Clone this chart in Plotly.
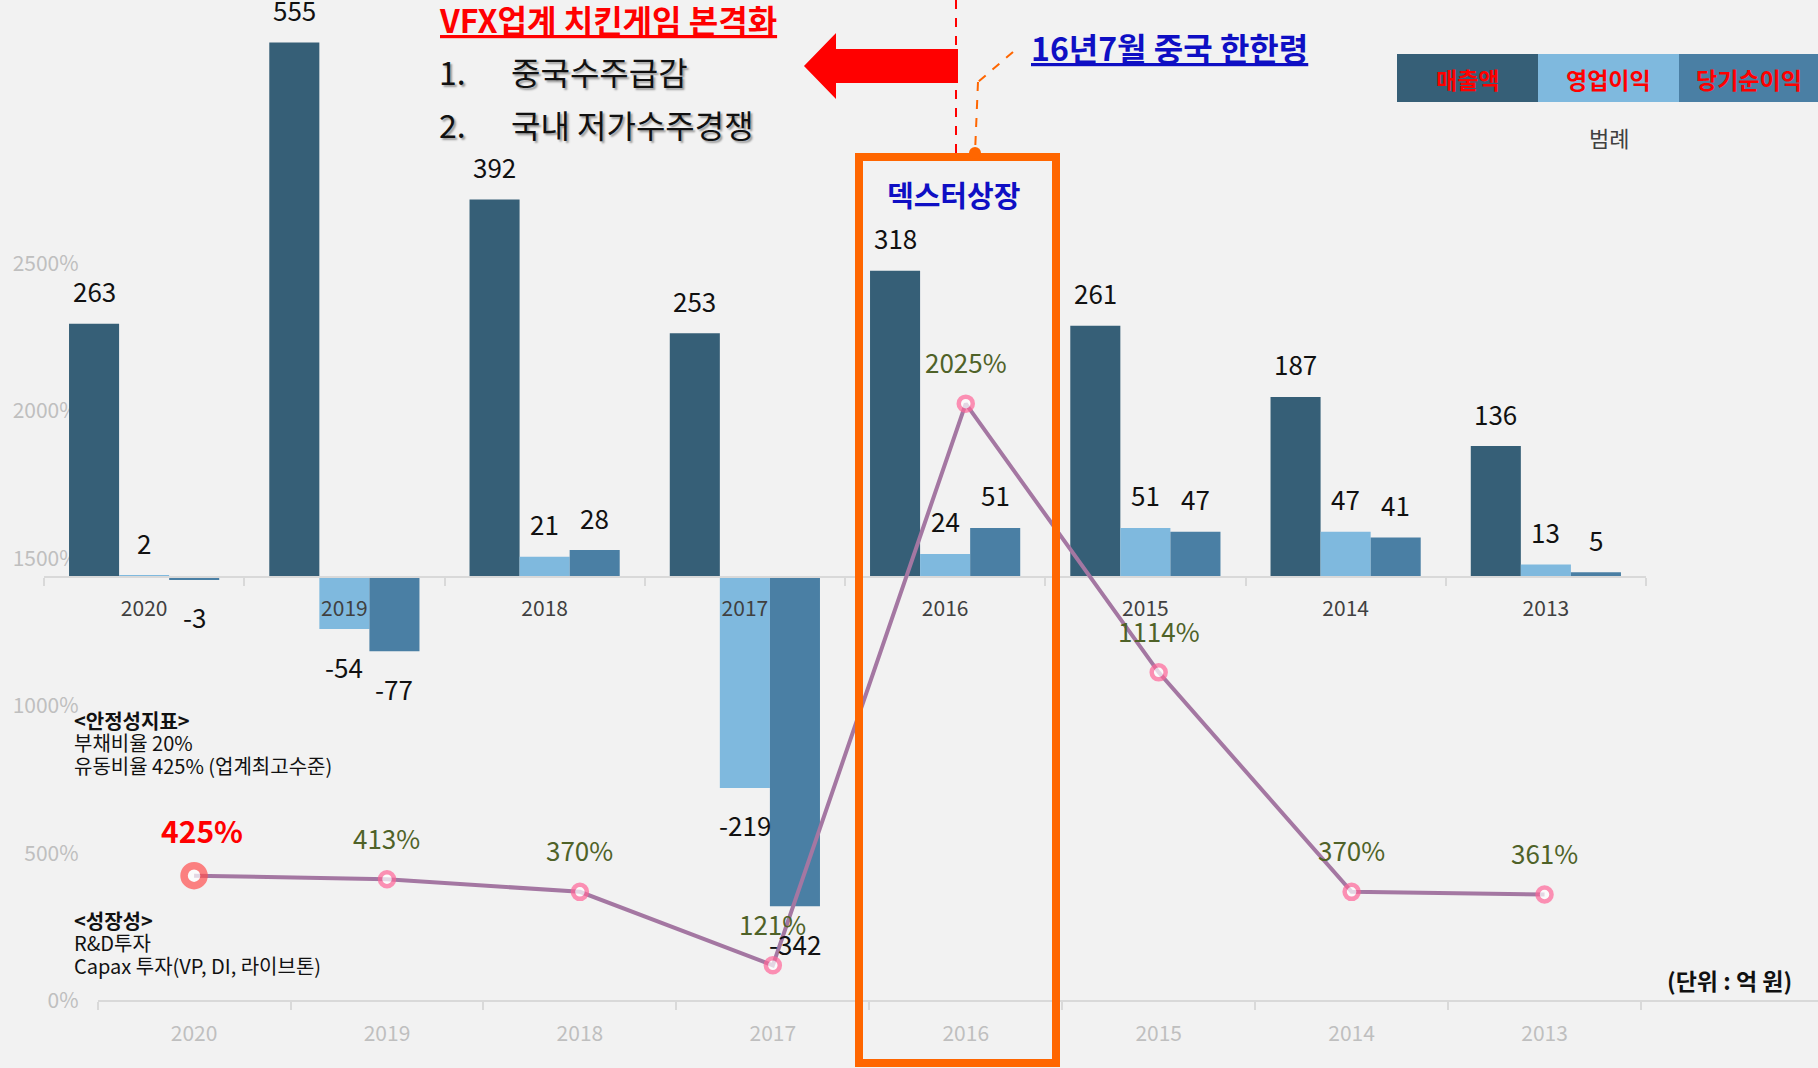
import plotly.graph_objects as go

W, H = 1818, 1068
FONT = "Noto Sans CJK KR, Malgun Gothic, sans-serif"

# ---------------- data ----------------
years = ["2020", "2019", "2018", "2017", "2016", "2015", "2014", "2013"]
sales = [263, 555, 392, 253, 318, 261, 187, 136]          # 매출액
op_profit = [2, -54, 21, -219, 24, 51, 47, 13]            # 영업이익
net_profit = [-3, -77, 28, -342, 51, 47, 41, 5]           # 당기순이익
ratio = [425, 413, 370, 121, 2025, 1114, 370, 361]        # 유동비율 (%)
ratio_ticks = [0, 500, 1000, 1500, 2000, 2500]
ratio_tick_labels = ["0%", "500%", "1000%", "1500%", "2000%", "2500%"]
series_names = ["매출액", "영업이익", "당기순이익"]
bar_colors = ["#365F77", "#7FB9DE", "#4A7FA4"]


def px(x, y):
    return x / W, 1 - y / H


fig = go.Figure()
idx = list(range(len(years)))

# ---------------- subplot xy: carries the % scale and the bottom year axis (under the bars) ----------------
fig.add_trace(go.Scatter(x=idx, y=ratio, mode="markers", xaxis="x", yaxis="y",
                         marker=dict(size=1, opacity=0), showlegend=False, hoverinfo="skip"))

# ---------------- bars (subplot x2y2) ----------------
for name, vals, col in zip(series_names, [sales, op_profit, net_profit], bar_colors):
    fig.add_trace(go.Bar(x=years, y=vals, name=name, marker=dict(color=col, line=dict(width=0)),
                         xaxis="x2", yaxis="y2", showlegend=False, hoverinfo="x+y+name"))

# ---------------- line (subplot x3y3, on top, same % scale as x/y) ----------------
msize = [20] + [14] * (len(years) - 1)
mlw = [7.5] + [4.5] * (len(years) - 1)
mlc = ["#FF5050"] + ["#FF6699"] * (len(years) - 1)
fig.add_trace(go.Scatter(x=idx, y=ratio, mode="lines+markers", xaxis="x3", yaxis="y3",
                         line=dict(color="#A477A2", width=4),
                         marker=dict(size=msize, color="white", line=dict(color=mlc, width=mlw)),
                         showlegend=False, cliponaxis=False))

annotations = []

# bar value labels
for j, vals in enumerate([sales, op_profit, net_profit]):
    off = (j - 1) * 0.25
    for i, v in enumerate(vals):
        annotations.append(dict(x=i + off, y=v, xref="x2", yref="y2", text=str(v), showarrow=False,
                                yshift=33 if v >= 0 else -37,
                                font=dict(family=FONT, size=26, color="#111111")))

# line value labels
for i, v in enumerate(ratio):
    if i == 0:
        annotations.append(dict(x=i, y=v, xref="x3", yref="y3", text=f"{v}%", showarrow=False,
                                xshift=8, yshift=46,
                                font=dict(family=FONT, size=30, color="#FF0000", weight="bold")))
    else:
        annotations.append(dict(x=i, y=v, xref="x3", yref="y3", text=f"{v}%", showarrow=False,
                                yshift=42, font=dict(family=FONT, size=26, color="#4F6228")))


def text(x, y, s, size, color="#111111", bold=False, xanchor="center", yanchor="middle", **kw):
    fx, fy = px(x, y)
    f = dict(family=FONT, size=size, color=color)
    if bold:
        f["weight"] = "bold"
    f.update(kw.pop("font_extra", {}))
    annotations.append(dict(x=fx, y=fy, xref="paper", yref="paper", text=s, showarrow=False,
                            xanchor=xanchor, yanchor=yanchor, font=f, **kw))


# titles / callouts
text(437, 19, "VFX업계 치킨게임 본격화", 32, "#FF0000", True, xanchor="left",
     font_extra=dict(lineposition="under"))
shadow = dict(shadow="2px 2px 2px #9A9A9A")
text(437, 71, "1.", 32, "#111111", xanchor="left", font_extra=shadow)
text(509, 71, "중국수주급감", 32, "#111111", xanchor="left", font_extra=shadow)
text(437, 124, "2.", 32, "#111111", xanchor="left", font_extra=shadow)
text(509, 124, "국내 저가수주경쟁", 32, "#111111", xanchor="left", font_extra=shadow)
text(1029, 47, "16년7월 중국 한한령", 32, "#0F0FC4", True, xanchor="left",
     font_extra=dict(lineposition="under"))
text(953, 194, "덱스터상장", 29, "#0F0FC4", True)

# legend block
legend_x = [(1397, 1538), (1538, 1679), (1679, 1818)]
for (x0, x1), name in zip(legend_x, series_names):
    text((x0 + x1) / 2, 79, name, 23, "#FF0000", True)
text(1609, 137, "범례", 22, "#404040")

# left notes
text(72, 720, "<안정성지표>", 20, "#111111", True, xanchor="left")
text(72, 742, "부채비율 20%", 20, "#111111", xanchor="left")
text(72, 765, "유동비율 425% (업계최고수준)", 20, "#111111", xanchor="left")
text(72, 920, "<성장성>", 20, "#111111", True, xanchor="left")
text(72, 942, "R&D투자", 20, "#111111", xanchor="left")
text(72, 965, "Capax 투자(VP, DI, 라이브톤)", 20, "#111111", xanchor="left")
text(1794, 980, "(단위 : 억 원)", 23, "#111111", True, xanchor="right")

# ---------------- shapes ----------------
shapes = []


def path(points):
    s = ""
    for k, (x, y) in enumerate(points):
        fx, fy = px(x, y)
        s += ("M" if k == 0 else "L") + f"{fx:.5f},{fy:.5f} "
    return s + "Z"


# legend rectangles
for (x0, x1), col in zip(legend_x, bar_colors):
    a, b = px(x0, 54)
    c, d = px(x1, 102)
    shapes.append(dict(type="rect", xref="paper", yref="paper", x0=a, x1=c, y0=d, y1=b,
                       fillcolor=col, line=dict(width=0), layer="below"))

# red block arrow
shapes.append(dict(type="path", xref="paper", yref="paper",
                   path=path([(804, 66), (836, 33), (836, 49), (958, 49), (958, 83), (836, 83), (836, 99)]),
                   fillcolor="#FF0000", line=dict(width=0)))

# red dashed vertical line
a, b = px(956, 0)
c, d = px(956, 153)
shapes.append(dict(type="line", xref="paper", yref="paper", x0=a, x1=c, y0=b, y1=d,
                   line=dict(color="#FF0000", width=2, dash="dash")))

# orange dashed connector
for (x0, y0), (x1, y1) in [((1013, 52), (978, 82)), ((978, 82), (975, 153))]:
    a, b = px(x0, y0)
    c, d = px(x1, y1)
    shapes.append(dict(type="line", xref="paper", yref="paper", x0=a, x1=c, y0=b, y1=d,
                       line=dict(color="#FF6600", width=2, dash="dash")))

# orange box
a, b = px(859, 157)
c, d = px(1056, 1063)
shapes.append(dict(type="rect", xref="paper", yref="paper", x0=a, x1=c, y0=d, y1=b,
                   line=dict(color="#FF6600", width=8), fillcolor="rgba(0,0,0,0)"))
# orange dot
a, b = px(969, 147)
c, d = px(981, 159)
shapes.append(dict(type="circle", xref="paper", yref="paper", x0=a, x1=c, y0=d, y1=b,
                   fillcolor="#FF6600", line=dict(width=0)))

# ---------------- axes ----------------
k1 = 0.963   # px per 억원
z1 = 577     # px of zero line (bars)
k2 = 0.295   # px per %
z2 = 1001    # px of 0% (line)
cat_w2 = (1641 - 97.6) / 8
line_xdom = [97.6 / W, 1.0]
line_xrange = [-0.5, -0.5 + (W - 97.6) / cat_w2]
line_yrange = [-(H - z2) / k2, z2 / k2]

fig.update_layout(
    width=W, height=H,
    margin=dict(l=0, r=0, t=0, b=0),
    paper_bgcolor="#F2F2F2", plot_bgcolor="rgba(0,0,0,0)",
    barmode="group", bargap=0.25, bargroupgap=0,
    font=dict(family=FONT),
    showlegend=False,
    # % scale and bottom year axis (drawn first, under the bars)
    xaxis=dict(domain=line_xdom, range=line_xrange, anchor="free", type="linear",
               position=(H - z2) / H, showline=True, linecolor="#D9D9D9", linewidth=2,
               tickmode="array", tickvals=idx, ticktext=years, ticks="", showgrid=False, zeroline=False,
               tickfont=dict(family=FONT, size=21, color="#BFBFBF"), ticklabelstandoff=14,
               minor=dict(tickmode="array", tickvals=[i - 0.5 for i in range(len(years) + 1)],
                          ticks="outside", ticklen=8, tickcolor="#D9D9D9", tickwidth=1.5, showgrid=False)),
    yaxis=dict(domain=[0, 1], range=line_yrange, anchor="x", side="left", type="linear",
               tickmode="array", tickvals=ratio_ticks, ticktext=ratio_tick_labels,
               showgrid=False, zeroline=False,
               showline=False, ticks="", tickfont=dict(family=FONT, size=21, color="#BFBFBF"),
               ticklabelstandoff=18),
    # bar category axis at the zero line
    xaxis2=dict(domain=[44 / W, 1646 / W], type="category", anchor="free", position=(H - z1) / H,
                showline=True, linecolor="#D9D9D9", linewidth=2, ticks="outside", tickson="boundaries",
                ticklen=8, tickcolor="#D9D9D9", tickwidth=1.5, showgrid=False, zeroline=False,
                tickfont=dict(family=FONT, size=21, color="#404040"), ticklabelstandoff=13),
    yaxis2=dict(domain=[0, 1], range=[-(H - z1) / k1, z1 / k1], visible=False, anchor="x2"),
    # line subplot on top, same scales as x / y
    xaxis3=dict(domain=line_xdom, range=line_xrange, anchor="y3", visible=False, type="linear"),
    yaxis3=dict(domain=[0, 1], range=line_yrange, anchor="x3", visible=False, type="linear"),
    annotations=annotations,
    shapes=shapes,
)

fig.write_html("out.html", config={"displayModeBar": False},
               post_script="document.body.style.margin='0';document.body.style.overflow='hidden';")
